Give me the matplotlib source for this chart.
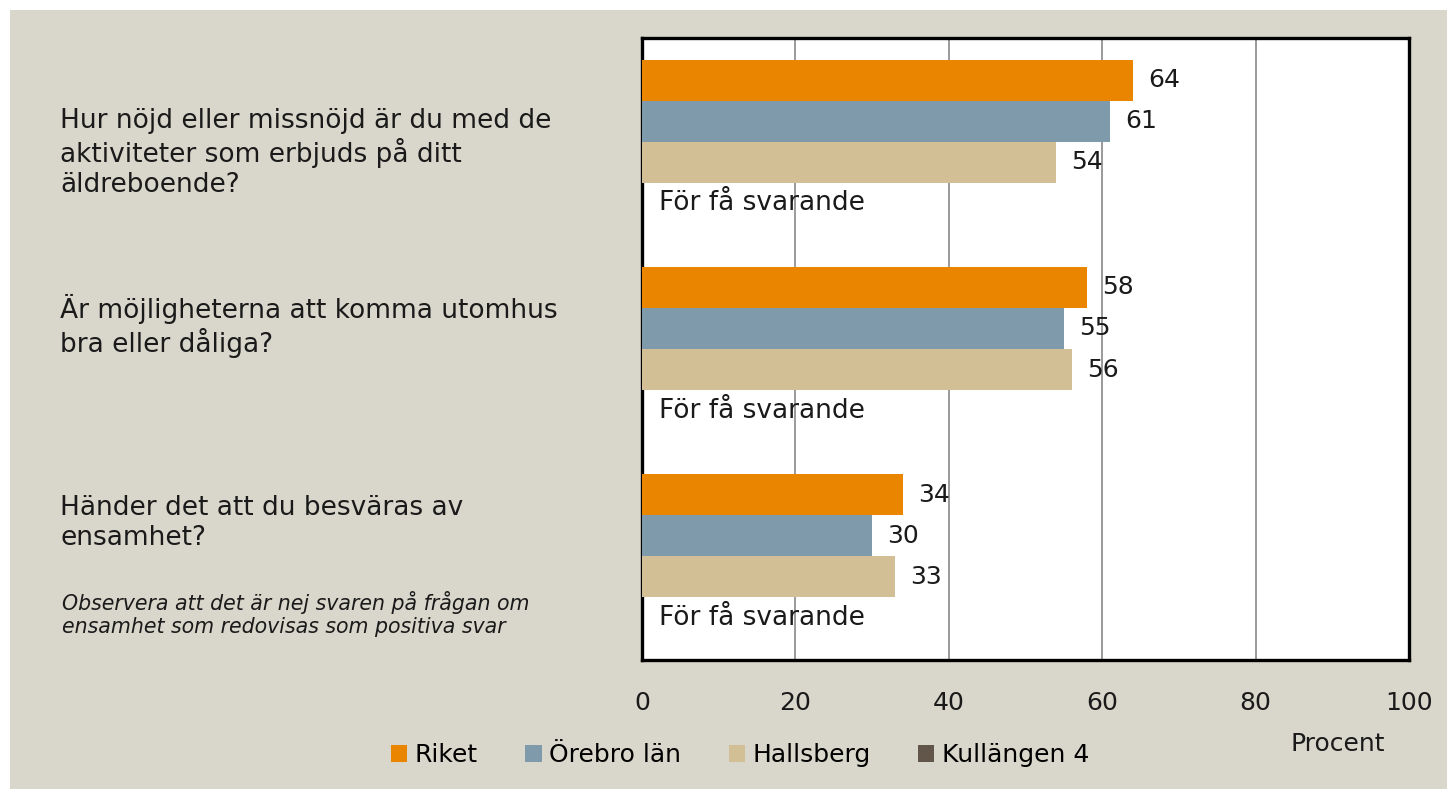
import matplotlib
matplotlib.use("Agg")
import matplotlib.pyplot as plt
from matplotlib.patches import Rectangle, Patch
import numpy as np

plt.rcParams['font.family'] = ['DejaVu Sans']

categories = [
    "Hur nöjd eller missnöjd är du med de\naktiviteter som erbjuds på ditt\näldreboende?",
    "Är möjligheterna att komma utomhus\nbra eller dåliga?",
    "Händer det att du besväras av\nensamhet?",
]
series_names = ["Riket", "Örebro län", "Hallsberg", "Kullängen 4"]
riket = [64, 58, 34]
orebro = [61, 55, 30]
hallsberg = [54, 56, 33]
kullangen = [None, None, None]
missing_text = "För få svarande"
note = "Observera att det är nej svaren på frågan om\nensamhet som redovisas som positiva svar"
xticks = [0, 20, 40, 60, 80, 100]
xlabel = "Procent"

colors = ["#EA8500", "#7F9BAB", "#D3BF96", "#62554A"]
bg = "#D9D7CB"
tc = "#1A1A1A"

W, H = 1447, 789
fig = plt.figure(figsize=(W / 100, H / 100), dpi=100, facecolor="white")
fig.patches.append(Rectangle((10 / W, 0), 1, 1 - 10 / H,
                             transform=fig.transFigure, facecolor=bg, edgecolor="none", zorder=-10))

ax = fig.add_axes([642 / W, 1 - 660 / H, (1409 - 642) / W, (660 - 38) / H])
ax.set_facecolor("white")

bh = 0.198
all_series = [riket, orebro, hallsberg, kullangen]
y0 = np.arange(len(categories))
for k, vals in enumerate(all_series):
    ys = y0 + (k - 1.5) * bh
    for y, v in zip(ys, vals):
        if v is None:
            ax.text(2.2, y, missing_text, va="center", ha="left", fontsize=19, color=tc)
        else:
            ax.barh(y, v, height=bh, color=colors[k], zorder=3)
            ax.text(v + 2.0, y, f"{v}", va="center", ha="left", fontsize=18, color=tc, zorder=4)

ax.set_ylim(len(categories) - 0.5, -0.5)
ax.set_xlim(0, 100)
ax.set_xticks(xticks)
ax.set_xticklabels([str(t) for t in xticks], fontsize=18, color=tc)
ax.tick_params(axis="x", length=0, pad=22)
ax.set_yticks([])
ax.grid(axis="x", color="#9A9A9A", linewidth=1.4, zorder=1)
for s in ax.spines.values():
    s.set_linewidth(2.4)
    s.set_color("black")

label_y = [153, 326, 523]
for txt, yp in zip(categories, label_y):
    fig.text(60 / W, 1 - yp / H, txt, ha="left", va="center", fontsize=19,
             color=tc, linespacing=1.2)

fig.text(62 / W, 1 - 614 / H, note, ha="left", va="center", fontsize=14.8,
         style="italic", color=tc, linespacing=1.15)

fig.text(1338 / W, 1 - 744 / H, xlabel, ha="center", va="center", fontsize=18, color=tc)

handles = [Patch(facecolor=c, edgecolor="none") for c in colors]
fig.legend(handles, series_names, loc="center", bbox_to_anchor=(740 / W, 1 - 755 / H),
           ncol=4, frameon=False, fontsize=18, handlelength=0.65, handleheight=0.65,
           handletextpad=0.3, columnspacing=1.9)

fig.savefig("out.png", dpi=100, facecolor=fig.get_facecolor())
